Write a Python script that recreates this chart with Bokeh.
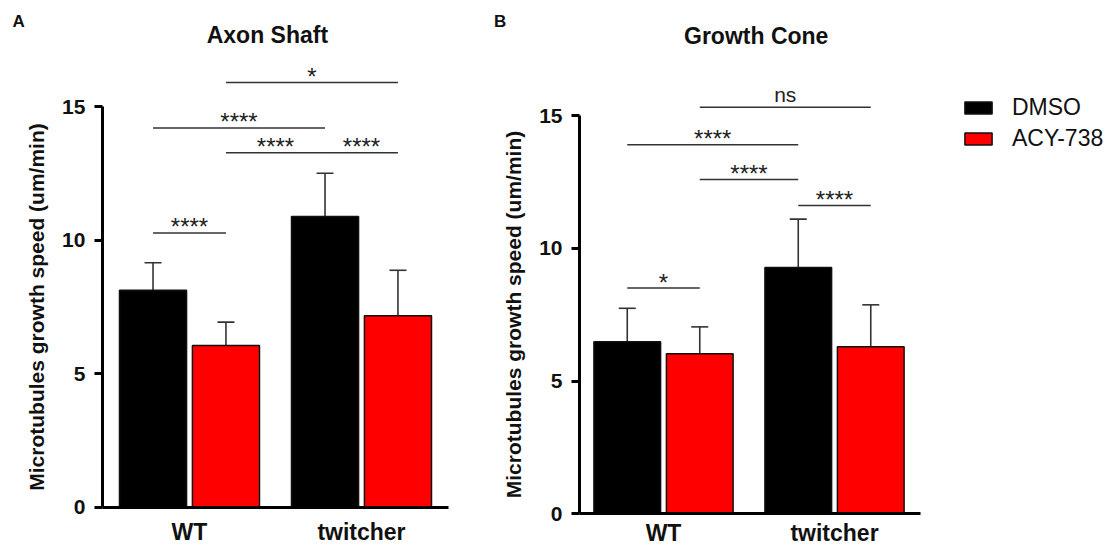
from bokeh.plotting import figure
from bokeh.models import (ColumnDataSource, Whisker, Legend, LegendItem,
                          FixedTicker, Range1d, TeeHead)
from bokeh.layouts import row
from bokeh.embed import file_html
from bokeh.resources import INLINE
from bokeh.core.properties import value

# ---------------- data ----------------
groups = ["WT", "twitcher"]
series = ["DMSO", "ACY-738"]
colors = ["#000000", "#ff0000"]

shaft_dmso = [8.12, 10.88]
shaft_dmso_sd = [1.03, 1.62]
shaft_acy = [6.05, 7.17]
shaft_acy_sd = [0.88, 1.70]

cone_dmso = [6.48, 9.28]
cone_dmso_sd = [1.26, 1.82]
cone_acy = [6.03, 6.29]
cone_acy_sd = [1.01, 1.58]

yticks = [0, 5, 10, 15]

# significance brackets: (bar a, bar b, height, label)
# bars: 0 WT-DMSO, 1 WT-ACY, 2 twitcher-DMSO, 3 twitcher-ACY
shaft_sig = [(1, 3, 15.90, "*"), (0, 2, 14.20, "****"), (1, 2, 13.27, "****"),
             (2, 3, 13.27, "****"), (0, 1, 10.27, "****")]
cone_sig = [(1, 3, 15.31, "ns"), (0, 2, 13.90, "****"), (1, 2, 12.59, "****"),
            (2, 3, 11.61, "****"), (0, 1, 8.50, "*")]

FONT = "Liberation Sans"
OFF = 0.212
BW = 0.39
H = 546


def panel(title, letter, dmso, dmso_sd, acy, acy_sd, sig, width, xr, yr,
          yaxis_x, xaxis_end, title_xy, letter_xy, xstandoff, legend=None):
    p = figure(width=width, height=H,
               x_range=Range1d(*xr), y_range=Range1d(*yr),
               output_backend="svg", toolbar_location=None,
               min_border=0, min_border_left=0, min_border_right=0,
               min_border_top=0, min_border_bottom=0)
    p.outline_line_color = None
    p.xgrid.visible = False
    p.ygrid.visible = False
    p.background_fill_color = "white"

    gx = list(range(len(groups)))
    renderers = []
    centers = []
    for k, (vals, sds) in enumerate([(dmso, dmso_sd), (acy, acy_sd)]):
        xs = [g + (-OFF if k == 0 else OFF) for g in gx]
        centers.append(xs)
        src = ColumnDataSource(dict(x=xs, top=vals,
                                    up=[v + s for v, s in zip(vals, sds)]))
        r = p.vbar(x="x", top="top", bottom=0, width=BW, source=src,
                   fill_color=colors[k], line_color="#111111", line_width=1.5)
        renderers.append(r)
        w = Whisker(source=src, base="x", lower="top", upper="up",
                    dimension="height", line_color="#333333", line_width=1.6,
                    upper_head=TeeHead(size=17, line_color="#333333", line_width=1.6),
                    lower_head=None)
        p.add_layout(w)

    bar_x = [centers[0][0], centers[1][0], centers[0][1], centers[1][1]]
    lx0, lx1, ly, tx, ty, tl = [], [], [], [], [], []
    for a, b, h, lab in sig:
        lx0.append(bar_x[a]); lx1.append(bar_x[b]); ly.append(h)
        tx.append((bar_x[a] + bar_x[b]) / 2); ty.append(h); tl.append(lab)
    p.segment(x0=lx0, y0=ly, x1=lx1, y1=ly, line_color="#333333", line_width=1.5)
    stars = [i for i, t in enumerate(tl) if t != "ns"]
    ns = [i for i, t in enumerate(tl) if t == "ns"]
    if stars:
        p.text(x=[tx[i] for i in stars], y=[ty[i] for i in stars],
               text=[tl[i] for i in stars], text_font=value(FONT),
               text_font_size="24px", text_align="center",
               text_baseline="alphabetic", y_offset=-6, text_color="#222222")
    if ns:
        p.text(x=[tx[i] for i in ns], y=[ty[i] for i in ns],
               text=[tl[i] for i in ns], text_font=value(FONT),
               text_font_size="21px", text_align="center",
               text_baseline="alphabetic", y_offset=-13, text_color="#222222")

    # panel title and letter
    p.text(x=[title_xy[0]], y=[title_xy[1]], text=[title], text_font=value(FONT),
           text_font_size="23px", text_font_style="bold", text_align="center",
           text_baseline="middle", text_color="#111111")
    p.text(x=[letter_xy[0]], y=[letter_xy[1]], text=[letter], text_font=value(FONT),
           text_font_size="17px", text_font_style="bold", text_align="center",
           text_baseline="middle", text_color="#111111")

    # axes
    ya = p.yaxis[0]
    ya.fixed_location = yaxis_x
    ya.ticker = FixedTicker(ticks=yticks)
    ya.bounds = (0, 15)
    ya.axis_line_width = 3
    ya.major_tick_line_width = 3
    ya.major_tick_out = 8
    ya.major_tick_in = 0
    ya.minor_tick_line_color = None
    ya.major_label_standoff = 9
    ya.major_label_text_font = FONT
    ya.major_label_text_font_size = "21px"
    ya.major_label_text_font_style = "bold"
    ya.major_label_text_color = "#111111"
    ya.axis_label = "Microtubules growth speed (um/min)"
    ya.axis_label_text_font = FONT
    ya.axis_label_text_font_size = "21px"
    ya.axis_label_text_font_style = "bold"
    ya.axis_label_text_color = "#111111"
    ya.axis_label_standoff = 11

    xa = p.xaxis[0]
    xa.fixed_location = 0
    xa.ticker = FixedTicker(ticks=gx)
    xa.major_label_overrides = {i: g for i, g in enumerate(groups)}
    xa.bounds = (yaxis_x, xaxis_end)
    xa.axis_line_width = 3
    xa.major_tick_line_color = None
    xa.major_tick_out = 0
    xa.major_tick_in = 0
    xa.minor_tick_line_color = None
    xa.major_label_standoff = xstandoff
    xa.major_label_text_font = FONT
    xa.major_label_text_font_size = "23px"
    xa.major_label_text_font_style = "bold"
    xa.major_label_text_color = "#111111"

    if legend is not None:
        items = [LegendItem(label=s, renderers=[r]) for s, r in zip(series, renderers)]
        lg = Legend(items=items, location=legend, padding=0, margin=0,
                    border_line_color=None, background_fill_alpha=0,
                    glyph_width=34, glyph_height=15, label_standoff=17,
                    spacing=4, label_text_font=FONT, label_text_font_size="23px",
                    label_text_color="#111111", label_height=15)
        p.add_layout(lg)
    return p


pA = panel("Axon Shaft", "A", shaft_dmso, shaft_dmso_sd, shaft_acy, shaft_acy_sd,
           shaft_sig, width=480, xr=(-1.0988, 1.6919), yr=(-1.471, 18.970),
           yaxis_x=-0.506, xaxis_end=1.506, title_xy=(0.453, 17.66),
           letter_xy=(-0.994, 18.18), xstandoff=12)
pB = panel("Growth Cone", "B", cone_dmso, cone_dmso_sd, cone_acy, cone_acy_sd,
           cone_sig, width=632, xr=(-1.0702, 2.6257), yr=(-1.232, 19.333),
           yaxis_x=-0.491, xaxis_end=1.503, title_xy=(0.542, 18.01),
           letter_xy=(-0.956, 18.54), xstandoff=6, legend=(481, 394))

layout = row(pA, pB)
open("out.html", "w").write(file_html(layout, INLINE))
